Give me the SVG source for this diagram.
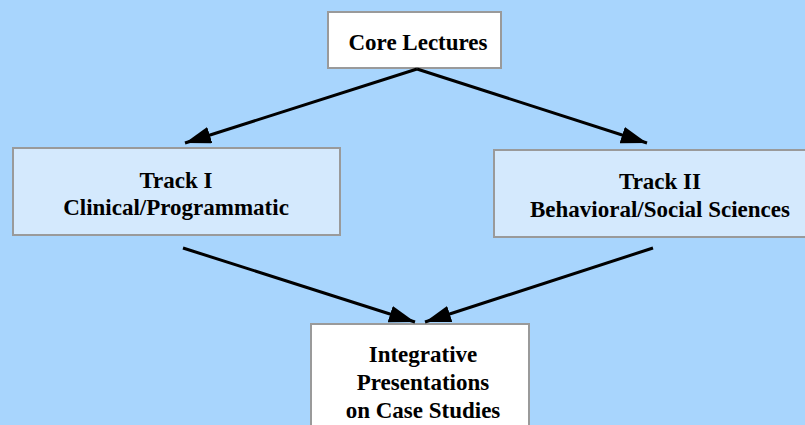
<svg xmlns="http://www.w3.org/2000/svg" width="805" height="425" viewBox="0 0 805 425">
<style>
.box{stroke:#9a9a9a;stroke-width:2}
.w{fill:#ffffff}
.t{fill:#d4e9fd}
.lbl{font-family:'Liberation Serif','Times New Roman','DejaVu Serif',serif;font-weight:bold;font-size:23px;fill:#000;text-anchor:middle}
.c{stroke:#000;stroke-width:3;fill:none;marker-end:url(#ah)}
</style>
<defs>
<marker id="ah" markerUnits="userSpaceOnUse" markerWidth="28" markerHeight="18" refX="26" refY="8.5" orient="auto">
<path d="M0,0 L26,8.5 L0,17 Z" fill="#000"/>
</marker>
</defs>
<rect width="805" height="425" fill="#a8d5fd"/>
<g id="core">
<rect class="box w" x="328" y="12" width="173" height="56"/>
<text class="lbl" x="418" y="50">Core Lectures</text>
</g>
<g id="track1">
<rect class="box t" x="13" y="148" width="327" height="87"/>
<text class="lbl" x="176" y="188">Track I</text>
<text class="lbl" x="176" y="215">Clinical/Programmatic</text>
</g>
<g id="track2">
<rect class="box t" x="494" y="150" width="320" height="87"/>
<text class="lbl" x="660" y="189">Track II</text>
<text class="lbl" x="660" y="217">Behavioral/Social Sciences</text>
</g>
<g id="integrative">
<rect class="box w" x="311" y="324" width="218" height="110"/>
<text class="lbl" x="423" y="362">Integrative</text>
<text class="lbl" x="423" y="390">Presentations</text>
<text class="lbl" x="423" y="418">on Case Studies</text>
</g>
<g id="connectors">
<line class="c" x1="417" y1="69" x2="185" y2="143"/>
<line class="c" x1="417" y1="69" x2="647" y2="143"/>
<line class="c" x1="183" y1="248" x2="415" y2="322"/>
<line class="c" x1="653" y1="248" x2="425" y2="322"/>
</g>
</svg>
